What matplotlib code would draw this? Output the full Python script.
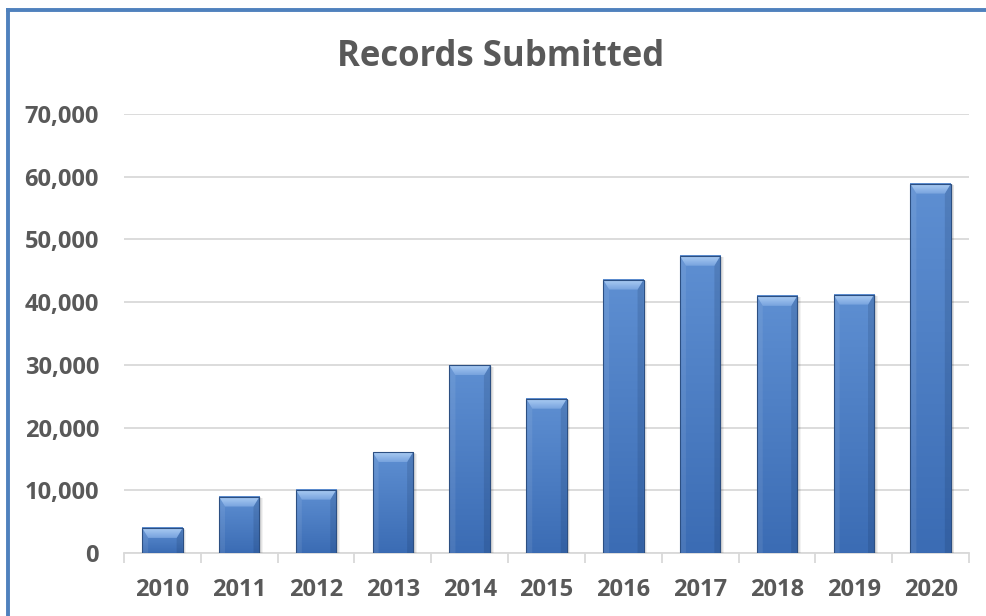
import numpy as np
import matplotlib
matplotlib.use("Agg")
import matplotlib.pyplot as plt
from matplotlib.patches import Polygon
from matplotlib.colors import to_rgb
from matplotlib.ticker import FuncFormatter, FixedLocator
from matplotlib.lines import Line2D

# Data
years = ["2010", "2011", "2012", "2013", "2014", "2015",
         "2016", "2017", "2018", "2019", "2020"]
records = [4000, 9000, 10100, 16100, 29900, 24600,
           43600, 47400, 41000, 41200, 58900]
title = "Records Submitted"
y_ticks = [0, 10000, 20000, 30000, 40000, 50000, 60000, 70000]

W, H = 987, 616
fig = plt.figure(figsize=(W / 100, H / 100), dpi=100)
fig.patch.set_facecolor("white")

ax_l, ax_r, ax_b, ax_t = 124, 969, 553, 114
ax = fig.add_axes([ax_l / W, 1 - ax_b / H, (ax_r - ax_l) / W, (ax_b - ax_t) / H])

FONT = ["Open Sans", "DejaVu Sans"]
TXT = "#595959"
GRID = "#D9D9D9"

n = len(years)
xs = np.arange(n)
xlim = (-0.5, n - 0.5)
ylim = (0, 70000)
bar_w = 0.527

# pixel -> data conversions
px_x = (xlim[1] - xlim[0]) / (ax_r - ax_l)
px_y = (ylim[1] - ylim[0]) / (ax_b - ax_t)

# soft drop shadow
for k, a in [(4, 0.05), (3, 0.06), (2, 0.07)]:
    ax.bar(xs + k * px_x * 0.6, records, width=bar_w + k * px_x * 0.6,
           bottom=-k * px_y * 0.4, color="black", alpha=a, zorder=1.5,
           linewidth=0)

c_top = np.array(to_rgb("#5E8FD2"))
c_bot = np.array(to_rgb("#3B6CB4"))
b_top = np.array(to_rgb("#A9CBF3"))
b_bot = np.array(to_rgb("#78A3DE"))

sx = 6 * px_x
ty = 10 * px_y

for x, h in zip(xs, records):
    x0, x1 = x - bar_w / 2, x + bar_w / 2
    # body gradient
    t = np.linspace(0, 1, 64)[:, None, None]
    body = c_top * (1 - t) + c_bot * t
    body = np.repeat(body, 8, axis=1)
    ax.imshow(body, extent=[x0, x1, 0, h], aspect="auto",
              interpolation="bilinear", zorder=2)
    # side bevels
    left = Polygon([(x0, h), (x0 + sx, h - ty), (x0 + sx, 0), (x0, 0)],
                   closed=True, facecolor="white", alpha=0.08,
                   edgecolor="none", zorder=2.2)
    right = Polygon([(x1, h), (x1 - sx, h - ty), (x1 - sx, 0), (x1, 0)],
                    closed=True, facecolor="#0A1F40", alpha=0.14,
                    edgecolor="none", zorder=2.2)
    ax.add_patch(left)
    ax.add_patch(right)
    # top bevel gradient
    tb = np.linspace(0, 1, 32)[:, None, None]
    bev = b_top * (1 - tb) + b_bot * tb
    bev = np.repeat(bev, 8, axis=1)
    top_poly = Polygon([(x0, h), (x1, h), (x1 - sx, h - ty), (x0 + sx, h - ty)],
                       closed=True, facecolor="none", edgecolor="none")
    ax.add_patch(top_poly)
    im2 = ax.imshow(bev, extent=[x0, x1, h - ty, h], aspect="auto",
                    interpolation="bilinear", zorder=2.4)
    im2.set_clip_path(top_poly)

# outlines
ax.bar(xs, records, width=bar_w, facecolor="none", edgecolor="#2C4F82",
       linewidth=0.8, zorder=3)

ax.set_xlim(*xlim)
ax.set_ylim(*ylim)

# axes styling
for s in ["top", "right", "left"]:
    ax.spines[s].set_visible(False)
ax.spines["bottom"].set_color(GRID)
ax.spines["bottom"].set_linewidth(1.3)
ax.spines["bottom"].set_zorder(1)

ax.set_yticks(y_ticks)
ax.yaxis.set_major_formatter(FuncFormatter(lambda v, p: f"{int(v):,}"))
ax.yaxis.grid(True, color=GRID, linewidth=1.3, zorder=0)
ax.set_axisbelow(True)
ax.tick_params(axis="y", length=0, pad=18, labelsize=17, labelcolor=TXT)

ax.set_xticks(xs)
ax.set_xticklabels(years)
ax.xaxis.set_minor_locator(FixedLocator(np.arange(n + 1) - 0.5))
ax.tick_params(axis="x", which="major", length=0, pad=18, labelsize=17,
               labelcolor=TXT)
ax.tick_params(axis="x", which="minor", length=7, width=1.3, color=GRID)

for lab in ax.get_xticklabels() + ax.get_yticklabels():
    lab.set_fontfamily(FONT)
    lab.set_fontweight("bold")

fig.text(501 / W, 1 - 66 / H, title, ha="center", va="baseline",
         fontsize=25, fontweight="bold", color=TXT, family=FONT)

# chart frame (top and left edges)
frame_c = "#4F81BD"
fig.add_artist(Line2D([8 / W, 8 / W], [0, 1 - 9.5 / H], transform=fig.transFigure,
                      color=frame_c, linewidth=2.8, solid_capstyle="projecting"))
fig.add_artist(Line2D([8 / W, 1], [1 - 9.5 / H, 1 - 9.5 / H], transform=fig.transFigure,
                      color=frame_c, linewidth=2.8, solid_capstyle="projecting"))

fig.savefig("out.png", dpi=100)
